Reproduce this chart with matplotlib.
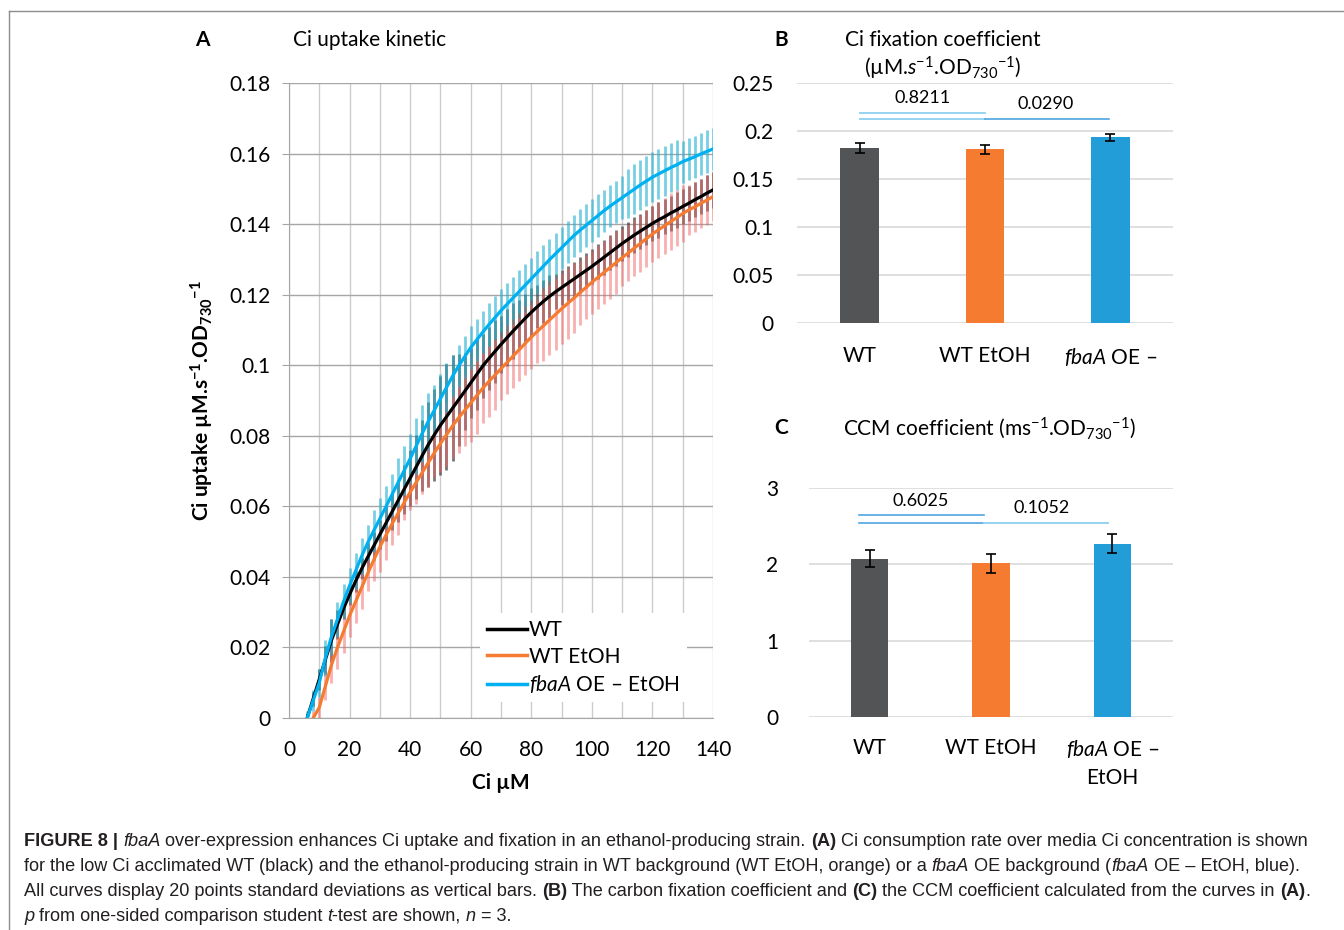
import matplotlib
matplotlib.use("Agg")
import matplotlib.pyplot as plt
import numpy as np

plt.rcParams['font.family'] = ['Lato', 'DejaVu Sans']
plt.rcParams['mathtext.fontset'] = 'custom'
plt.rcParams['mathtext.rm'] = 'Lato'
plt.rcParams['mathtext.it'] = 'Lato:italic'
plt.rcParams['mathtext.bf'] = 'Lato:bold'

W, H = 1344, 930

# ---- panel A data: Ci uptake (mean and SD) ----
x_wt = np.arange(6, 141, 2)
wt_mean = [0.0, 0.0055, 0.011, 0.0165, 0.022, 0.0265, 0.031, 0.035,
           0.0388, 0.0423, 0.0456, 0.0488, 0.052, 0.0552, 0.0584, 0.0616,
           0.0648, 0.068, 0.0712, 0.0744, 0.0775, 0.0803, 0.083, 0.0854,
           0.0878, 0.0902, 0.0926, 0.095, 0.0974, 0.0998, 0.1019, 0.1039,
           0.1059, 0.1078, 0.1097, 0.1115, 0.1133, 0.115, 0.1166, 0.1181,
           0.1195, 0.1208, 0.122, 0.1232, 0.1244, 0.1256, 0.1268, 0.128,
           0.1293, 0.1306, 0.1319, 0.1332, 0.1345, 0.1357, 0.1369, 0.138,
           0.1391, 0.1402, 0.1412, 0.1421, 0.1431, 0.144, 0.145, 0.1459,
           0.1469, 0.1478, 0.1488, 0.1497]
wt_sd = [0.001, 0.002, 0.003, 0.004, 0.006, 0.004, 0.003, 0.003,
         0.003, 0.003, 0.004, 0.004, 0.004, 0.005, 0.005,
         0.006, 0.007, 0.008, 0.009, 0.010, 0.012, 0.013, 0.014, 0.015, 0.015, 0.013, 0.011,
         0.010, 0.010, 0.009, 0.009, 0.009, 0.008, 0.008, 0.008, 0.007, 0.007, 0.007,
         0.006, 0.006, 0.006, 0.005, 0.005, 0.005, 0.005, 0.005, 0.005, 0.005,
         0.005, 0.005, 0.005, 0.005, 0.005, 0.005, 0.005, 0.005, 0.005, 0.005,
         0.005, 0.005, 0.005, 0.005, 0.005, 0.005, 0.005, 0.005, 0.005, 0.005]

x_etoh = np.arange(8, 141, 2)
etoh_mean = [0.0, 0.003, 0.009, 0.015, 0.020, 0.0245, 0.029, 0.033, 0.037,
             0.041, 0.0448, 0.0485, 0.0518, 0.055, 0.058, 0.061, 0.064,
             0.0668, 0.0696, 0.0724, 0.0752, 0.0778, 0.0803, 0.0828, 0.0851,
             0.0872, 0.0893, 0.0914, 0.0935, 0.0954, 0.0972, 0.099, 0.1008,
             0.1026, 0.1044, 0.1062, 0.108, 0.1096, 0.1112, 0.1128, 0.1144,
             0.116, 0.1175, 0.119, 0.1205, 0.122, 0.1235, 0.1249, 0.1263,
             0.1277, 0.1291, 0.1305, 0.1318, 0.1332, 0.1345, 0.1359, 0.1372,
             0.1384, 0.1395, 0.1407, 0.1418, 0.143, 0.144, 0.1449, 0.1459,
             0.1468, 0.1478]
etoh_sd = [0.002, 0.003, 0.004, 0.005, 0.006, 0.006, 0.006,
           0.006, 0.006, 0.005, 0.006, 0.007, 0.007, 0.006,
           0.006, 0.005, 0.005, 0.006, 0.006, 0.007, 0.007,
           0.008, 0.009, 0.009, 0.010, 0.010, 0.011, 0.011, 0.010, 0.010, 0.010,
           0.009, 0.009, 0.009, 0.009, 0.009,
           0.009, 0.009, 0.010, 0.010, 0.010, 0.010, 0.010, 0.010, 0.009, 0.009,
           0.009, 0.009, 0.009, 0.009, 0.009, 0.008, 0.008, 0.008, 0.008, 0.008,
           0.008, 0.008, 0.008, 0.008, 0.008, 0.008, 0.007, 0.007, 0.007, 0.007, 0.007]

x_fba = np.arange(6, 141, 2)
fba_mean = [0.0, 0.005, 0.010, 0.017, 0.023, 0.028, 0.033, 0.0375,
            0.0417, 0.0459, 0.0497, 0.0531, 0.0565, 0.0599, 0.0633, 0.0667,
            0.0701, 0.0735, 0.0771, 0.0807, 0.0841, 0.0873, 0.0905, 0.0937,
            0.0969, 0.0998, 0.1024, 0.105, 0.1072, 0.1094, 0.1115, 0.1135,
            0.1155, 0.1173, 0.1191, 0.1209, 0.1227, 0.1245, 0.1263, 0.1281,
            0.1299, 0.1316, 0.1333, 0.135, 0.1367, 0.1382, 0.1396, 0.141,
            0.1424, 0.1438, 0.1451, 0.1463, 0.1475, 0.1487, 0.1499, 0.1511,
            0.1522, 0.1533, 0.1542, 0.1551, 0.156, 0.1568, 0.1577, 0.1584,
            0.1591, 0.1599, 0.1606, 0.1613]
fba_sd = [0.002, 0.003, 0.004, 0.005, 0.005, 0.005, 0.005, 0.005,
          0.005, 0.005, 0.005, 0.006, 0.006, 0.006, 0.006,
          0.007, 0.007, 0.007, 0.008, 0.008, 0.008, 0.007, 0.007, 0.007, 0.006, 0.006, 0.006,
          0.006, 0.006, 0.006, 0.006, 0.006, 0.006, 0.006, 0.006, 0.006, 0.006, 0.006,
          0.006, 0.006, 0.006, 0.006, 0.006, 0.006, 0.006, 0.006, 0.006, 0.006,
          0.006, 0.006, 0.006, 0.006, 0.006, 0.007, 0.007, 0.007, 0.007, 0.007,
          0.007, 0.007, 0.007, 0.007, 0.006, 0.006, 0.006, 0.006, 0.006, 0.006]

a_xticks = [0, 20, 40, 60, 80, 100, 120, 140]
a_yticks = [0, 0.02, 0.04, 0.06, 0.08, 0.1, 0.12, 0.14, 0.16, 0.18]
a_ylabels = ['0', '0.02', '0.04', '0.06', '0.08', '0.1', '0.12', '0.14', '0.16', '0.18']

# ---- panels B and C ----
strains_b = ['WT', 'WT EtOH', r'$\it{fbaA}$ OE –']
strains_c = ['WT', 'WT EtOH', r'$\it{fbaA}$ OE –' + '\nEtOH']
fix_vals = [0.182, 0.181, 0.1935]
fix_err = [0.0052, 0.005, 0.0035]
fix_p = ['0.8211', '0.0290']
ccm_vals = [2.07, 2.01, 2.27]
ccm_err = [0.11, 0.12, 0.127]
ccm_p = ['0.6025', '0.1052']
b_yticks = [0, 0.05, 0.1, 0.15, 0.2, 0.25]
b_ylabels = ['0', '0.05', '0.1', '0.15', '0.2', '0.25']
c_yticks = [0, 1, 2, 3]

bar_colors = ['#525456', '#f47b30', '#229dd8']

fig = plt.figure(figsize=(W / 100, H / 100), dpi=100)


def fx(px):
    return px / W


def fy(py):
    return 1 - py / H


def box(l, t, r, b):
    return [fx(l), fy(b), fx(r) - fx(l), fy(t) - fy(b)]


# outer frame lines
fig.add_artist(plt.Line2D([fx(9), 1], [fy(11), fy(11)], color='#8c8c8c', lw=1))
fig.add_artist(plt.Line2D([fx(9), fx(9)], [fy(11), 0], color='#8c8c8c', lw=1))

# ================= Panel A =================
axA = fig.add_axes(box(289, 83, 713, 718))
axA.vlines(x_wt, np.array(wt_mean) - wt_sd, np.array(wt_mean) + wt_sd,
           color='#3c3c3c', alpha=0.7, lw=2.0, zorder=2)
axA.vlines(x_etoh, np.array(etoh_mean) - etoh_sd, np.array(etoh_mean) + etoh_sd,
           color='#f26262', alpha=0.5, lw=2.0, zorder=3)
axA.vlines(x_fba, np.array(fba_mean) - fba_sd, np.array(fba_mean) + fba_sd,
           color='#1fb0d2', alpha=0.6, lw=2.0, zorder=4)
axA.plot(x_etoh, etoh_mean, color='#f47b30', lw=2.3, label='WT EtOH', zorder=5)
axA.plot(x_wt, wt_mean, color='black', lw=2.3, label='WT', zorder=6)
axA.plot(x_fba, fba_mean, color='#00b0f0', lw=2.3, label=r'$\it{fbaA}$ OE – EtOH', zorder=7)

axA.set_xlim(0, 140)
axA.set_ylim(0, 0.18)
axA.set_xticks(a_xticks)
axA.set_xticks(np.arange(10, 140, 20), minor=True)
axA.set_yticks(a_yticks)
axA.set_yticklabels(a_ylabels)
axA.grid(axis='x', which='both', color='#cccccc', lw=1)
axA.grid(axis='y', color='#a6a6a6', lw=1)
axA.set_axisbelow(True)
for s in ['top', 'right']:
    axA.spines[s].set_visible(False)
axA.spines['left'].set_color('#a6a6a6')
axA.spines['bottom'].set_color('#a6a6a6')
axA.tick_params(axis='y', length=5, color='#a6a6a6', pad=8, labelsize=15)
axA.tick_params(axis='x', which='both', length=0, pad=16, labelsize=15)
axA.set_ylabel(r'Ci uptake µM.s$^{\mathregular{-1}}$.OD$_{\mathregular{730}}$$^{\mathregular{-1}}$',
               fontsize=15, fontweight='bold')
axA.yaxis.set_label_coords((216 - 289) / 424, 0.5)
axA.set_xlabel('Ci µM', fontsize=15, fontweight='bold')
axA.xaxis.set_label_coords(0.5, -(773 - 718) / 635)

handles, labels = axA.get_legend_handles_labels()
order = [1, 0, 2]
leg = axA.legend([handles[i] for i in order], [labels[i] for i in order],
                 loc='upper left', bbox_to_anchor=(fx(480), fy(613)),
                 bbox_transform=fig.transFigure, fontsize=15,
                 frameon=True, fancybox=False, edgecolor='none', facecolor='white',
                 framealpha=1, handlelength=1.9, handletextpad=0.1,
                 labelspacing=0.3, borderpad=0.35, borderaxespad=0)
for ln in leg.get_lines():
    ln.set_linewidth(2.5)

fig.text(fx(202), fy(40), 'A', fontsize=15, fontweight='bold', ha='center', va='center')
fig.text(fx(293), fy(40), 'Ci uptake kinetic', fontsize=15, ha='left', va='center')

# ================= Panel B =================
axB = fig.add_axes(box(797, 83, 1173, 323.3))
axB.bar(range(3), fix_vals, width=0.31, color=bar_colors, yerr=fix_err, capsize=3.6,
        error_kw=dict(lw=1.2, capthick=1.2, ecolor='black'), zorder=3)
axB.set_xlim(-0.5, 2.5)
axB.set_ylim(0, 0.25)
axB.set_yticks(b_yticks)
axB.set_yticklabels(b_ylabels)
axB.set_xticks(range(3))
axB.set_xticklabels(strains_b)
axB.grid(axis='y', color='#d9d9d9', lw=1.2)
axB.set_axisbelow(True)
for s in axB.spines.values():
    s.set_visible(False)
axB.tick_params(axis='both', length=0, labelsize=15)
axB.tick_params(axis='y', pad=17)
axB.tick_params(axis='x', pad=16)
axB.plot([0, 1], [0.2188, 0.2188], color='#8fd0ef', lw=1.3, zorder=4)
axB.plot([0, 1], [0.2123, 0.2123], color='#8fd0ef', lw=1.3, zorder=4)
axB.plot([1, 1.99], [0.2123, 0.2123], color='#3d9ddb', lw=1.1, zorder=4)
axB.text(0.5, 0.2345, fix_p[0], fontsize=13, ha='center', va='center')
axB.text(1.48, 0.228, fix_p[1], fontsize=13, ha='center', va='center')

fig.text(fx(781), fy(40), 'B', fontsize=15, fontweight='bold', ha='center', va='center')
fig.text(fx(943), fy(40), 'Ci fixation coefficient', fontsize=15, ha='center', va='center')
fig.text(fx(943), fy(68),
         r'(µM.$\it{s}$$^{\mathregular{-1}}$.OD$_{\mathregular{730}}$$^{\mathregular{-1}}$)',
         fontsize=15, ha='center', va='center')

# ================= Panel C =================
axC = fig.add_axes(box(809, 487.7, 1173, 717.3))
axC.bar(range(3), ccm_vals, width=0.31, color=bar_colors, yerr=ccm_err, capsize=3.6,
        error_kw=dict(lw=1.2, capthick=1.2, ecolor='black'), zorder=3)
axC.set_xlim(-0.5, 2.5)
axC.set_ylim(0, 3)
axC.set_yticks(c_yticks)
axC.set_xticks(range(3))
axC.set_xticklabels(strains_c, linespacing=1.5)
axC.grid(axis='y', color='#d9d9d9', lw=1.2)
axC.set_axisbelow(True)
for s in axC.spines.values():
    s.set_visible(False)
axC.tick_params(axis='both', length=0, labelsize=15)
axC.tick_params(axis='y', pad=22)
axC.tick_params(axis='x', pad=15)
axC.plot([-0.088, 0.942], [2.64, 2.64], color='#4ea6e0', lw=1.2, zorder=4)
axC.plot([-0.088, 0.942], [2.543, 2.543], color='#4ea6e0', lw=1.2, zorder=4)
axC.plot([0.942, 1.964], [2.543, 2.543], color='#95d3f0', lw=1.4, zorder=4)
axC.text(0.42, 2.826, ccm_p[0], fontsize=13, ha='center', va='center')
axC.text(1.42, 2.739, ccm_p[1], fontsize=13, ha='center', va='center')

fig.text(fx(781), fy(428), 'C', fontsize=15, fontweight='bold', ha='center', va='center')
fig.text(fx(990), fy(428),
         r'CCM coefficient (ms$^{\mathregular{-1}}$.OD$_{\mathregular{730}}$$^{\mathregular{-1}}$)',
         fontsize=15, ha='center', va='center')

# ================= Caption =================
caption = [
    [('FIGURE 8 | ', 'b'), ('fbaA', 'i'),
     (' over-expression enhances Ci uptake and fixation in an ethanol-producing strain. ', 'n'),
     ('(A)', 'b'), (' Ci consumption rate over media Ci concentration is shown', 'n')],
    [('for the low Ci acclimated WT (black) and the ethanol-producing strain in WT background '
      '(WT EtOH, orange) or a ', 'n'), ('fbaA', 'i'), (' OE background (', 'n'), ('fbaA', 'i'),
     (' OE – EtOH, blue).', 'n')],
    [('All curves display 20 points standard deviations as vertical bars. ', 'n'), ('(B)', 'b'),
     (' The carbon fixation coefficient and ', 'n'), ('(C)', 'b'),
     (' the CCM coefficient calculated from the curves in ', 'n'), ('(A)', 'b'), ('.', 'n')],
    [('p', 'i'), (' from one-sided comparison student ', 'n'), ('t', 'i'),
     ('-test are shown, ', 'n'), ('n', 'i'), (' = 3.', 'n')],
]
cap_y = [841, 866, 891, 916]

renderer = fig.canvas.get_renderer()
cap_font = ['Liberation Sans', 'DejaVu Sans']
for line, py in zip(caption, cap_y):
    x = 24
    for txt, st in line:
        t = fig.text(fx(x), fy(py), txt, fontsize=13.1, family=cap_font, color='#231f20',
                     fontweight='bold' if st == 'b' else 'normal',
                     fontstyle='italic' if st == 'i' else 'normal',
                     ha='left', va='center')
        x += t.get_window_extent(renderer).width

fig.savefig('out.png', dpi=100)
